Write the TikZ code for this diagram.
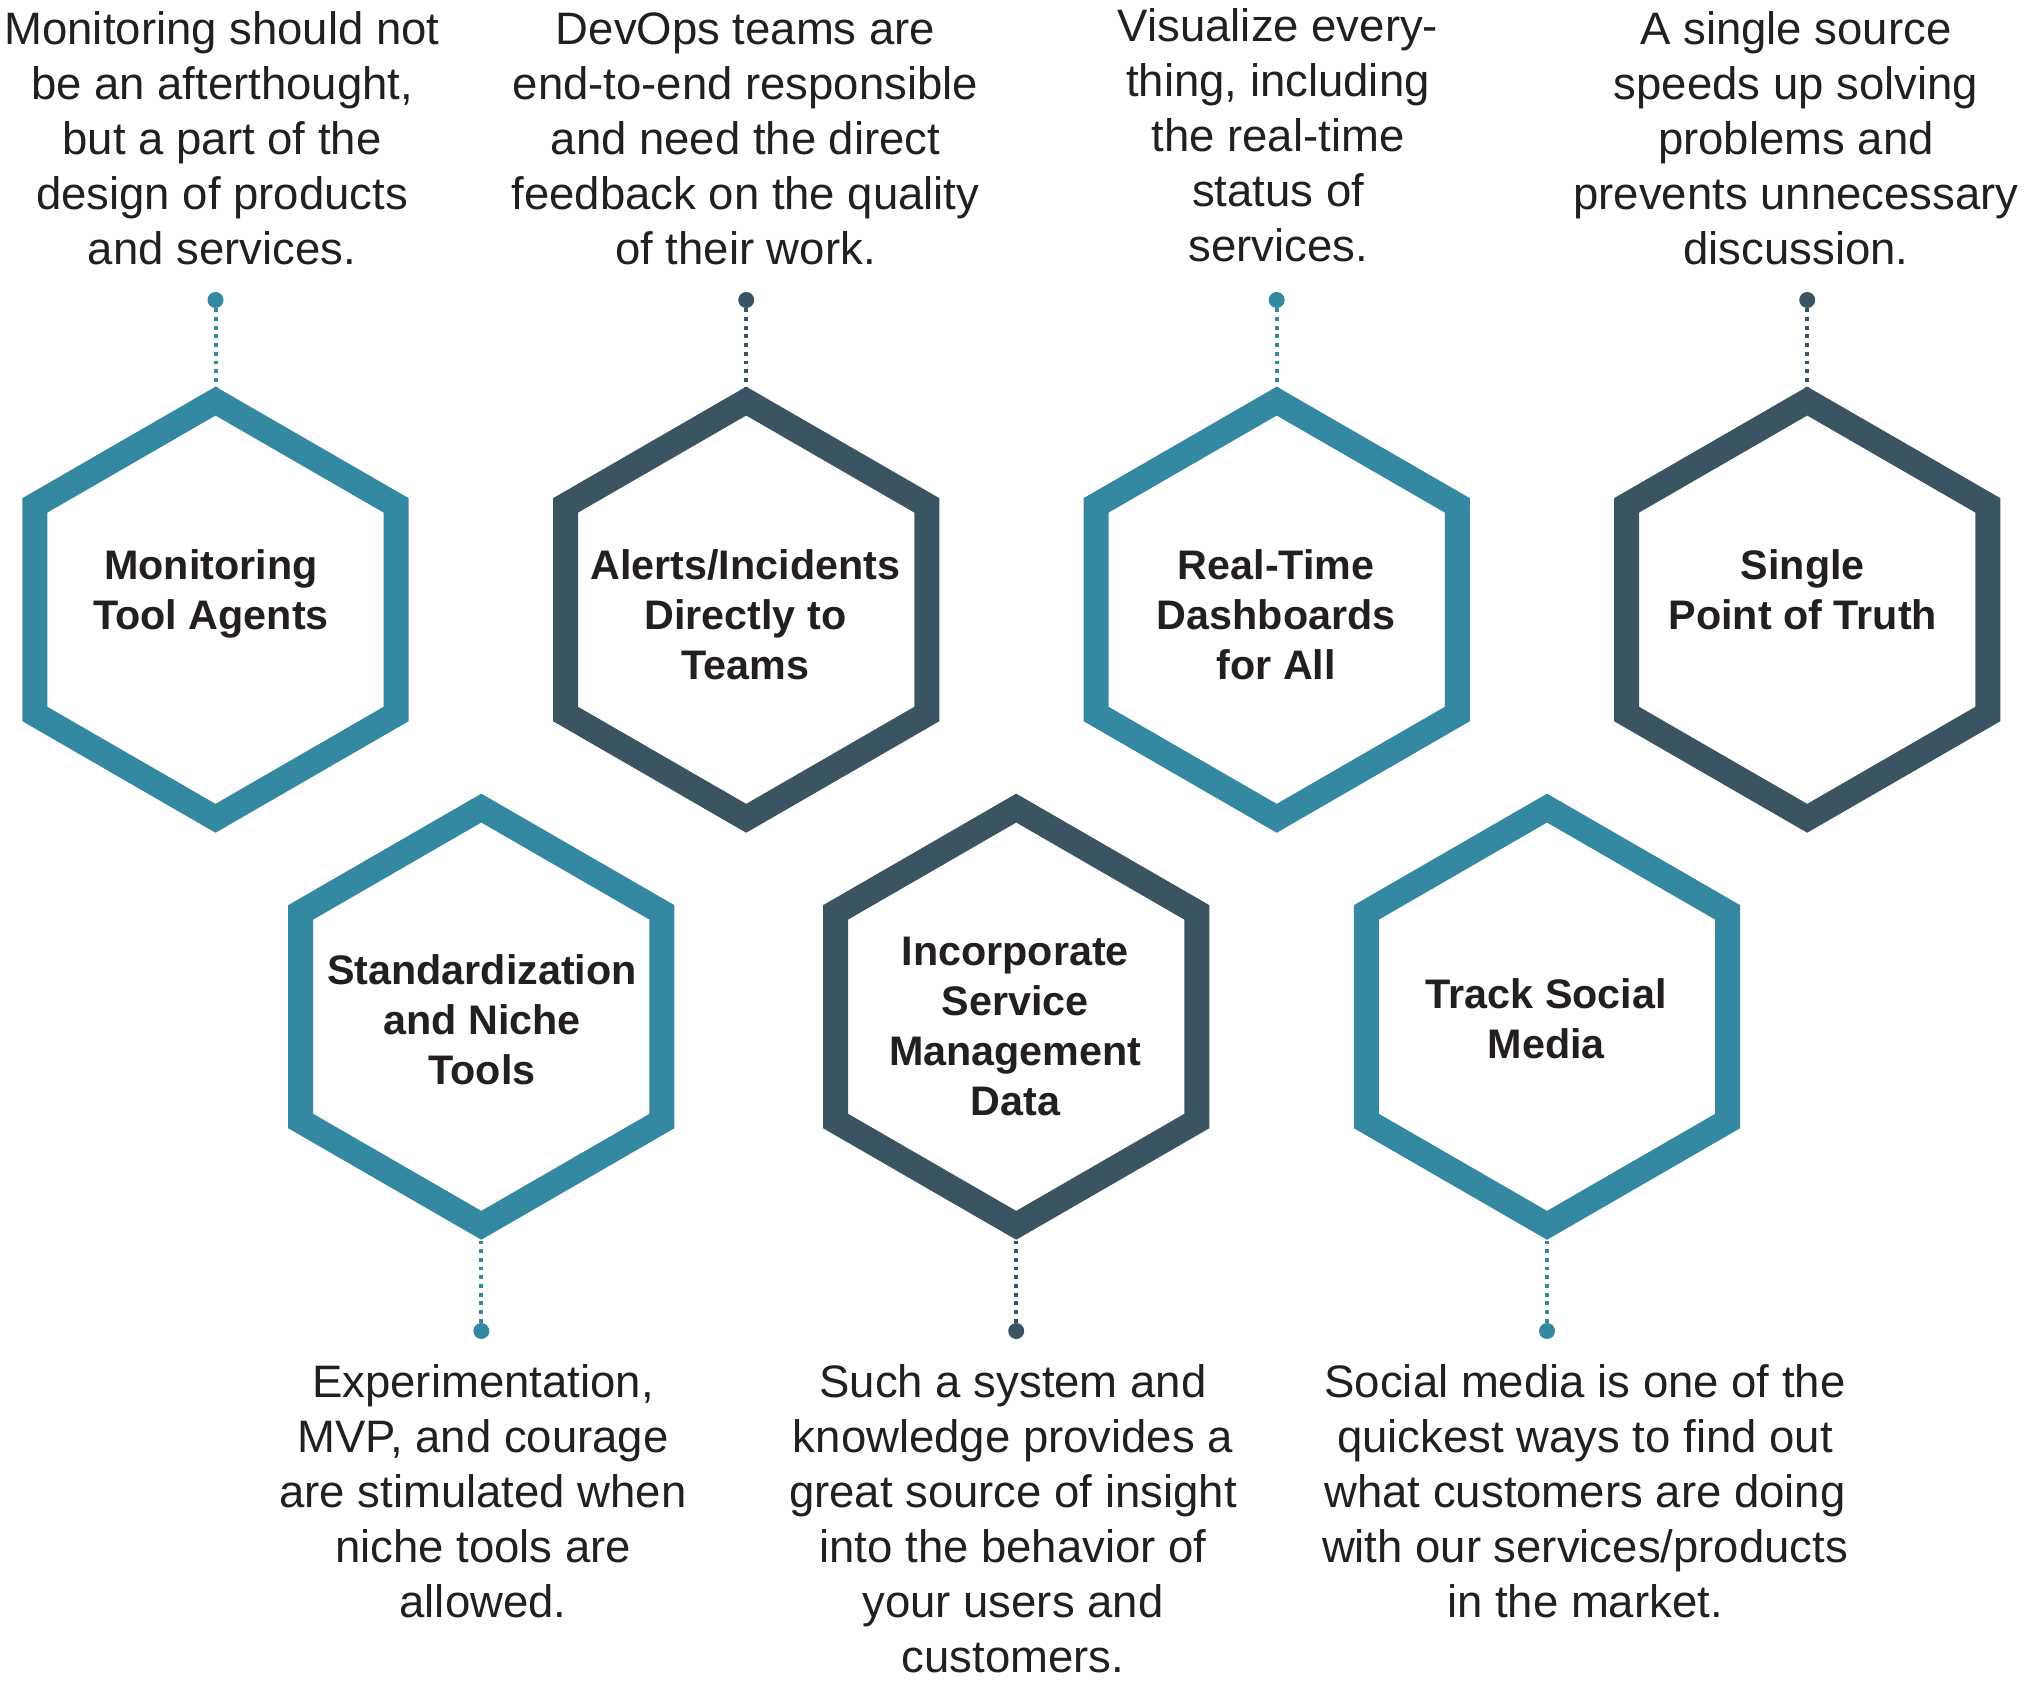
\documentclass[tikz,border=0pt]{standalone}
\usepackage{fontspec}
\setmainfont{Liberation Sans}
\definecolor{tealc}{RGB}{53,136,161}
\definecolor{darkc}{RGB}{58,84,98}
\definecolor{txtc}{RGB}{35,31,32}
\newcommand\myhex[4]{%
  \coordinate (#1) at (#2,#3);
  \coordinate (#1t) at ({#2},{#3-208.6});
  \coordinate (#1b) at ({#2},{#3+208.6});
  \draw[hexline,draw=#4] ({#2},{#3-208.6}) -- ({#2+180.65},{#3-104.3}) -- ({#2+180.65},{#3+104.3})
     -- ({#2},{#3+208.6}) -- ({#2-180.65},{#3+104.3}) -- ({#2-180.65},{#3-104.3}) -- cycle;}
\newcommand\bodytxt[1]{{\fontsize{22.75}{27.5}\selectfont\begin{tabular}[t]{@{}c@{}}#1\end{tabular}}}
\newcommand\titletxt[1]{{\fontsize{20.65}{25}\selectfont\bfseries\begin{tabular}[t]{@{}c@{}}#1\end{tabular}}}
\begin{document}
\begin{tikzpicture}[x=0.5pt,y=-0.5pt,
  hexline/.style={line width=12.5pt,line join=miter},
  dotline/.style={line width=2pt,dash pattern=on 1.9pt off 2.45pt},
  dotnode/.style={circle,inner sep=0pt,minimum size=8pt,fill=#1,draw=none},
  txt/.style={anchor=base,inner sep=0pt,text=txtc}]
\useasboundingbox (0,0) rectangle (2033,1689);
% description texts
\node[txt] (t1) at (222,44.5) {\bodytxt{Monitoring should not\\be an afterthought,\\but a part of the\\design of products\\and services.}};
\node[txt] (t2) at (745.5,44.5) {\bodytxt{DevOps teams are\\end-to-end responsible\\and need the direct\\feedback on the quality\\of their work.}};
\node[txt] (t3) at (1278,41.5) {\bodytxt{Visualize every-\\thing, including\\the real-time\\status of\\services.}};
\node[txt] (t4) at (1796,44.5) {\bodytxt{A single source\\speeds up solving\\problems and\\prevents unnecessary\\discussion.}};
\node[txt] (t5) at (483,1397.5) {\bodytxt{Experimentation,\\MVP, and courage\\are stimulated when\\niche tools are\\allowed.}};
\node[txt] (t6) at (1013,1397.5) {\bodytxt{Such a system and\\knowledge provides a\\great source of insight\\into the behavior of\\your users and\\customers.}};
\node[txt] (t7) at (1585,1397.5) {\bodytxt{Social media is one of the\\quickest ways to find out\\what customers are doing\\with our services/products\\in the market.}};
% dots
\node[dotnode=tealc] (d1) at (215.5,300) {};
\node[dotnode=darkc] (d2) at (746.2,300) {};
\node[dotnode=tealc] (d3) at (1276.7,300) {};
\node[dotnode=darkc] (d4) at (1807.2,300) {};
\node[dotnode=tealc] (d5) at (481.3,1331) {};
\node[dotnode=darkc] (d6) at (1016.2,1331) {};
\node[dotnode=tealc] (d7) at (1547,1331) {};
% hex anchor coordinates (needed before connectors)
\coordinate (h1t) at (215.5,401.1);
\coordinate (h2t) at (746.2,401.1);
\coordinate (h3t) at (1276.7,401.1);
\coordinate (h4t) at (1807.2,401.1);
\coordinate (h5b) at (481.3,1225.3);
\coordinate (h6b) at (1016.2,1225.3);
\coordinate (h7b) at (1547,1225.3);
% connectors
\draw[dotline,draw=tealc] (d1) -- (h1t);
\draw[dotline,draw=darkc] (d2) -- (h2t);
\draw[dotline,draw=tealc] (d3) -- (h3t);
\draw[dotline,draw=darkc] (d4) -- (h4t);
\draw[dotline,draw=tealc] (d5) -- (h5b);
\draw[dotline,draw=darkc] (d6) -- (h6b);
\draw[dotline,draw=tealc] (d7) -- (h7b);
% hexagons
\myhex{h1}{215.5}{609.7}{tealc}
\myhex{h2}{746.2}{609.7}{darkc}
\myhex{h3}{1276.7}{609.7}{tealc}
\myhex{h4}{1807.2}{609.7}{darkc}
\myhex{h5}{481.3}{1016.7}{tealc}
\myhex{h6}{1016.2}{1016.7}{darkc}
\myhex{h7}{1547}{1016.7}{tealc}
% titles
\node[txt] (n1) at (211,580) {\titletxt{Monitoring\\Tool Agents}};
\node[txt] (n2) at (745.3,580) {\titletxt{Alerts/Incidents\\Directly to\\Teams}};
\node[txt] (n3) at (1276.3,580) {\titletxt{Real-Time\\Dashboards\\for All}};
\node[txt] (n4) at (1802.8,580) {\titletxt{Single\\Point of Truth}};
\node[txt] (n5) at (482,984) {\titletxt{Standardization\\and Niche\\Tools}};
\node[txt] (n6) at (1015.3,965.7) {\titletxt{Incorporate\\Service\\Management\\Data}};
\node[txt] (n7) at (1546.3,1008.4) {\titletxt{Track Social\\Media}};
\end{tikzpicture}
\end{document}
